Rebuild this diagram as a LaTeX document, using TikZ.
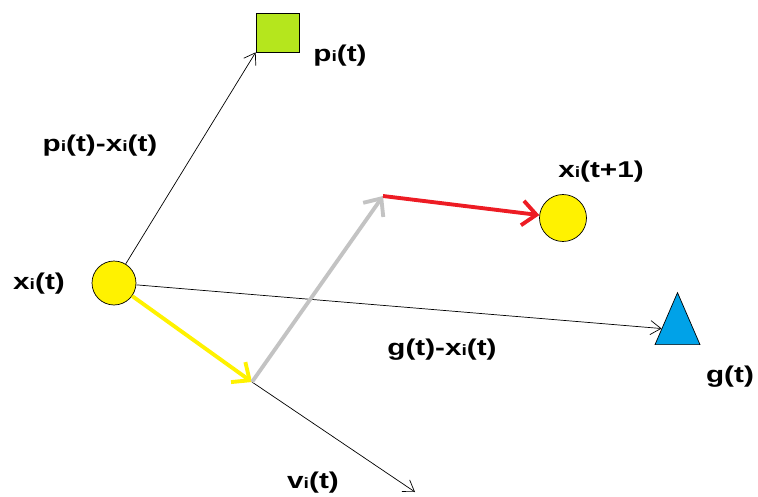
\documentclass[tikz,border=0pt]{standalone}
\usepackage{fontspec}
\setmainfont{Liberation Sans}[FakeStretch=1.3]
\usepackage{tikz}
\usetikzlibrary{shapes.geometric,arrows.meta,positioning}
\definecolor{paintyellow}{RGB}{255,242,0}
\definecolor{paintlime}{RGB}{181,230,29}
\definecolor{paintblue}{RGB}{0,162,232}
\definecolor{paintred}{RGB}{237,28,36}
\definecolor{paintgray}{RGB}{195,195,195}
\newcommand{\idx}{{\fontsize{8.5}{9}\selectfont i}}

\begin{document}
\begin{tikzpicture}[x=0.02cm,y=-0.02cm,
          lbl/.style={font=\fontsize{13}{15}\selectfont\bfseries,inner sep=0pt},
          particle/.style={circle,draw,thin,fill=paintyellow,minimum size=0.88cm,inner sep=0pt},
          thinarrow/.style={thin,-{Straight Barb[length=6pt,width=8pt]}},
          fatarrow/.style={line width=2.2pt,-{Straight Barb[length=8pt,width=14pt,line width=2.2pt]}}]
          \useasboundingbox (0,0) rectangle (758,497);
          % positions
          \node[particle] (xt) at (114,283) {};
          \node[particle,minimum width=0.94cm] (xnext) at (563,218) {};
          \node[rectangle,draw,thin,fill=paintlime,minimum width=0.86cm,minimum height=0.78cm,inner sep=0pt] (pbest) at (277.5,32.5) {};
          \node[isosceles triangle,isosceles triangle stretches,shape border rotate=90,
                draw,thin,fill=paintblue,minimum width=0.9cm,minimum height=1.04cm,inner sep=0pt,
                anchor=south] (gbest) at (677.5,345) {};
          \coordinate (vend) at (252,382);
          \coordinate (gend) at (383,196);
          \coordinate (vtip) at (415,492);
          % labels
          \node[lbl] (xtlbl) at (39,284) {x\idx(t)};
          \node[lbl] (xnextlbl) at (601,172) {x\idx(t+1)};
          \node[lbl] (plbl) at (340,56) {p\idx(t)};
          \node[lbl] (glbl) at (730,377) {g(t)};
          \node[lbl] (pxlbl) at (100,146) {p\idx(t)-x\idx(t)};
          \node[lbl] (gxlbl) at (442,350) {g(t)-x\idx(t)};
          \node[lbl] (vlbl) at (313,483) {v\idx(t)};
          % vectors
          \draw[thinarrow] (xt) -- (pbest.south west);
          \draw[thinarrow] (xt) -- (gbest);
          \draw[thinarrow] (vend) -- (vtip);
          \draw[fatarrow,paintyellow] (xt) -- (vend);
          \draw[fatarrow,paintgray] (vend) -- (gend);
          \draw[fatarrow,paintred] (gend) -- (xnext);
        \end{tikzpicture}
\end{document}
